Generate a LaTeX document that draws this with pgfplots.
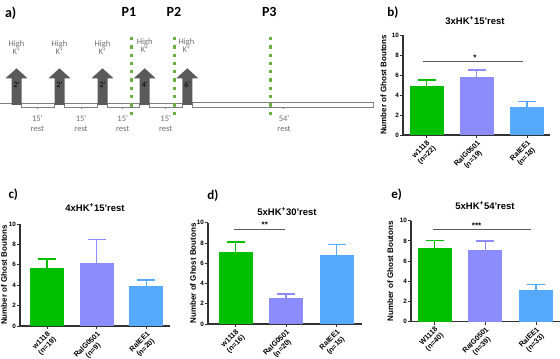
\documentclass[border=0pt]{standalone}
\usepackage{pgfplots}
\pgfplotsset{compat=1.18}
\usepackage{fontspec}
\setmainfont{Liberation Sans}
\newfontfamily\calfont{Carlito}
\definecolor{cgreen}{RGB}{0,190,0}
\definecolor{cpurple}{RGB}{140,140,255}
\definecolor{cblue}{RGB}{85,170,255}
\definecolor{pgreen}{RGB}{106,175,69}
\definecolor{arrowgray}{RGB}{90,90,90}
\definecolor{axgray}{RGB}{50,50,50}
\definecolor{txtgray}{RGB}{110,110,110}
\pgfplotsset{
 prism/.style={
  scale only axis, anchor=south west,
  ymin=0, ymax=10, ytick={0,2,4,6,8,10},
  xtick={0,1,2},
  axis x line=bottom, axis y line=left,
  axis line style={-, line width=1.1pt, axgray},
  tick style={line width=0.9pt, axgray}, tick align=outside, major tick length=3pt,
  /pgf/number format/assume math mode=true,
  yticklabel style={font=\fontsize{6.3}{7}\selectfont\bfseries, inner sep=1pt},
  xticklabel style={font=\fontsize{7.3}{8.3}\selectfont\bfseries, rotate=45, anchor=north east, align=center, inner sep=1pt},
  every axis y label/.style={rotate=90, anchor=center, font=\fontsize{8}{9}\selectfont\bfseries},
  ylabel={Number of Ghost Boutons},
  clip=false,
 },
 gbar/.style={ybar, bar width=34pt, draw=none, fill=#1,
   error bars/.cd, y dir=plus, y explicit, error mark=|,
   error bar style={line width=1.3pt, #1},
   error mark options={line width=1.3pt, mark size=9pt, #1}},
}
\begin{document}
\begin{tikzpicture}
\path[use as bounding box] (0,0) rectangle (560pt,359pt);
% ---------- panel a (overlay in pixel coordinates) ----------
\begin{axis}[at={(0pt,0pt)}, anchor=south west, scale only axis, width=560pt, height=359pt,
  xmin=0, xmax=560, ymin=0, ymax=359, y dir=reverse, hide axis, clip=false]
% timeline
\addplot[gray, line width=0.6pt] coordinates {(0,103.5) (11.5,103.5)};
\addplot[gray, line width=0.6pt, fill=white] coordinates {(21.5,103) (54.5,103) (54.5,107) (21.5,107) (21.5,103)};
\addplot[gray, line width=0.6pt, fill=white] coordinates {(64.5,103) (97.5,103) (97.5,107) (64.5,107) (64.5,103)};
\addplot[gray, line width=0.6pt, fill=white] coordinates {(107.5,103) (139.7,103) (139.7,107) (107.5,107) (107.5,103)};
\addplot[gray, line width=0.6pt, fill=white] coordinates {(149.7,103) (182.3,103) (182.3,107) (149.7,107) (149.7,103)};
\addplot[gray, line width=0.6pt, fill=white] coordinates {(192.3,102.5) (373,102.5) (373,107) (192.3,107) (192.3,102.5)};
% small ticks
\addplot[gray, line width=0.5pt] coordinates {(37,107) (37,109.5)};
\addplot[gray, line width=0.5pt] coordinates {(81,107) (81,109.5)};
\addplot[gray, line width=0.5pt] coordinates {(122.7,107) (122.7,109.5)};
\addplot[gray, line width=0.5pt] coordinates {(165.7,107) (165.7,109.5)};
\addplot[gray, line width=0.5pt] coordinates {(283,107) (283,109.5)};
% arrows
\addplot[fill=arrowgray, draw=none] coordinates {(11.5,105) (11.5,78.3) (5.5,78.3) (16.5,68.3) (27.5,78.3) (21.5,78.3) (21.5,105)};
\addplot[fill=arrowgray, draw=none] coordinates {(54.5,105) (54.5,78.3) (48.5,78.3) (59.5,68.3) (70.5,78.3) (64.5,78.3) (64.5,105)};
\addplot[fill=arrowgray, draw=none] coordinates {(97.5,105) (97.5,78.3) (91.5,78.3) (102.5,68.3) (113.5,78.3) (107.5,78.3) (107.5,105)};
\addplot[fill=arrowgray, draw=none] coordinates {(139.7,105) (139.7,78.3) (133.7,78.3) (144.7,68.3) (155.7,78.3) (149.7,78.3) (149.7,105)};
\addplot[fill=arrowgray, draw=none] coordinates {(182.3,105) (182.3,78.3) (176.3,78.3) (187.3,68.3) (198.3,78.3) (192.3,78.3) (192.3,105)};
% dotted lines
\addplot[pgreen, line width=3pt, dash pattern=on 3.3pt off 5pt] coordinates {(131.7,37) (131.7,118)};
\addplot[pgreen, line width=3pt, dash pattern=on 3.3pt off 5pt] coordinates {(174,37) (174,118)};
\addplot[pgreen, line width=3pt, dash pattern=on 3.3pt off 5pt] coordinates {(270.7,37) (270.7,118)};
% texts
\node[font=\calfont\bfseries\fontsize{14}{14}\selectfont] at (10.7,13) {a)};
\node[font=\calfont\bfseries\fontsize{14}{14}\selectfont] at (129,12) {P1};
\node[font=\calfont\bfseries\fontsize{14}{14}\selectfont] at (174,12) {P2};
\node[font=\calfont\bfseries\fontsize{14}{14}\selectfont] at (269.3,12) {P3};
\node[font=\calfont\fontsize{8.5}{9}\selectfont, text=txtgray, align=center, inner sep=0pt, anchor=north] at (16.5,40) {High\\[-1pt]K\textsuperscript{+}};
\node[font=\calfont\fontsize{8.5}{9}\selectfont, text=txtgray, align=center, inner sep=0pt, anchor=north] at (59.5,40) {High\\[-1pt]K\textsuperscript{+}};
\node[font=\calfont\fontsize{8.5}{9}\selectfont, text=txtgray, align=center, inner sep=0pt, anchor=north] at (102.5,40) {High\\[-1pt]K\textsuperscript{+}};
\node[font=\calfont\fontsize{8.5}{9}\selectfont, text=txtgray, align=center, inner sep=0pt, anchor=north] at (144.7,38.5) {High\\[-1pt]K\textsuperscript{+}};
\node[font=\calfont\fontsize{8.5}{9}\selectfont, text=txtgray, align=center, inner sep=0pt, anchor=north] at (186.5,38.5) {High\\[-1pt]K\textsuperscript{+}};
\node[font=\calfont\fontsize{8}{8}\selectfont, text=black] at (16.5,85) {2'};
\node[font=\calfont\fontsize{8}{8}\selectfont, text=black] at (59.5,85) {2'};
\node[font=\calfont\fontsize{8}{8}\selectfont, text=black] at (102.5,85) {2'};
\node[font=\calfont\fontsize{8}{8}\selectfont, text=black] at (144.7,85) {4'};
\node[font=\calfont\fontsize{8}{8}\selectfont, text=black] at (187.3,85) {6'};
\node[font=\calfont\fontsize{8.5}{9}\selectfont, text=txtgray] at (37.3,118.5) {15'};
\node[font=\calfont\fontsize{8.5}{9}\selectfont, text=txtgray] at (37.3,128.5) {rest};
\node[font=\calfont\fontsize{8.5}{9}\selectfont, text=txtgray] at (81,118.5) {15'};
\node[font=\calfont\fontsize{8.5}{9}\selectfont, text=txtgray] at (81,128.5) {rest};
\node[font=\calfont\fontsize{8.5}{9}\selectfont, text=txtgray] at (122.7,118.5) {15'};
\node[font=\calfont\fontsize{8.5}{9}\selectfont, text=txtgray] at (122.7,128.5) {rest};
\node[font=\calfont\fontsize{8.5}{9}\selectfont, text=txtgray] at (165.7,118.5) {15'};
\node[font=\calfont\fontsize{8.5}{9}\selectfont, text=txtgray] at (165.7,128.5) {rest};
\node[font=\calfont\fontsize{8.5}{9}\selectfont, text=txtgray] at (284,119) {54'};
\node[font=\calfont\fontsize{8.5}{9}\selectfont, text=txtgray] at (284,129) {rest};
% panel letters and titles
\node[font=\calfont\bfseries\fontsize{13}{13}\selectfont] at (393,13) {b)};
\node[font=\calfont\bfseries\fontsize{13}{13}\selectfont] at (13.3,195) {c)};
\node[font=\calfont\bfseries\fontsize{13}{13}\selectfont] at (213,196) {d)};
\node[font=\calfont\bfseries\fontsize{13}{13}\selectfont] at (396.7,195) {e)};
\node[font=\bfseries\fontsize{9.5}{9.5}\selectfont] at (475,21) {3xHK\textsuperscript{+}15'rest};
\node[font=\bfseries\fontsize{9.5}{9.5}\selectfont] at (95,208) {4xHK\textsuperscript{+}15'rest};
\node[font=\bfseries\fontsize{9.5}{9.5}\selectfont] at (287,212) {5xHK\textsuperscript{+}30'rest};
\node[font=\bfseries\fontsize{9.5}{9.5}\selectfont] at (485,206) {5xHK\textsuperscript{+}54'rest};
\end{axis}
% ---------- panel b ----------
\begin{axis}[prism, at={(403pt,224pt)}, width=147pt, height=100pt, xmin=-0.468, xmax=2.458,
  ylabel style={at={(axis description cs:-0.133,0.5)}},
  xticklabels={{w1118\\(n=22)},{RalG0501\\(n=19)},{RalEE1\\(n=18)}}]
\addplot[gbar=cgreen] coordinates {(0,4.9) +- (0,0.6)};
\addplot[gbar=cpurple] coordinates {(1,5.8) +- (0,0.7)};
\addplot[gbar=cblue] coordinates {(2,2.75) +- (0,0.58)};
\addplot[axgray!80, line width=0.9pt] coordinates {(-0.07,7.33) (1.92,7.33)};
\node[font=\bfseries\fontsize{8}{8}\selectfont] at (axis cs:0.965,7.7) {*};
\end{axis}
% ---------- panel c ----------
\begin{axis}[prism, at={(20pt,33pt)}, width=150pt, height=102pt, xmin=-0.543, xmax=2.475,
  ylabel style={at={(axis description cs:-0.107,0.5)}},
  xticklabels={{w1118\\(n=19)},{RalG0501\\(n=9)},{RalEE1\\(n=20)}}]
\addplot[gbar=cgreen] coordinates {(0,5.72) +- (0,0.85)};
\addplot[gbar=cpurple] coordinates {(1,6.2) +- (0,2.3)};
\addplot[gbar=cblue] coordinates {(2,3.92) +- (0,0.58)};
\end{axis}
% ---------- panel d ----------
\begin{axis}[prism, at={(208pt,35pt)}, width=154pt, height=101.3pt, xmin=-0.545, xmax=2.505,
  ylabel style={at={(axis description cs:-0.097,0.5)}},
  xticklabels={{w1118\\(n=16)},{RalG0501\\(n=20)},{RalEE1\\(n=15)}}]
\addplot[gbar=cgreen] coordinates {(0,7.06) +- (0,1.04)};
\addplot[gbar=cpurple] coordinates {(1,2.54) +- (0,0.43)};
\addplot[gbar=cblue] coordinates {(2,6.83) +- (0,1.05)};
\addplot[axgray!80, line width=0.9pt] coordinates {(-0.03,9.38) (0.98,9.38)};
\node[font=\bfseries\fontsize{8}{8}\selectfont] at (axis cs:0.58,9.75) {**};
\end{axis}
% ---------- panel e ----------
\begin{axis}[prism, at={(411pt,37.3pt)}, width=149pt, height=101pt, xmin=-0.463, xmax=2.473,
  ylabel style={at={(axis description cs:-0.139,0.5)}},
  xticklabels={{W1118\\(n=40)},{RalG0501\\(n=39)},{RalEE1\\(n=33)}}]
\addplot[gbar=cgreen] coordinates {(0,7.28) +- (0,0.74)};
\addplot[gbar=cpurple] coordinates {(1,7.05) +- (0,0.94)};
\addplot[gbar=cblue] coordinates {(2,3.14) +- (0,0.53)};
\addplot[axgray!80, line width=0.9pt] coordinates {(-0.03,9.15) (1.9,9.15)};
\node[font=\bfseries\fontsize{8}{8}\selectfont] at (axis cs:0.83,9.5) {***};
\end{axis}
\end{tikzpicture}
\end{document}
